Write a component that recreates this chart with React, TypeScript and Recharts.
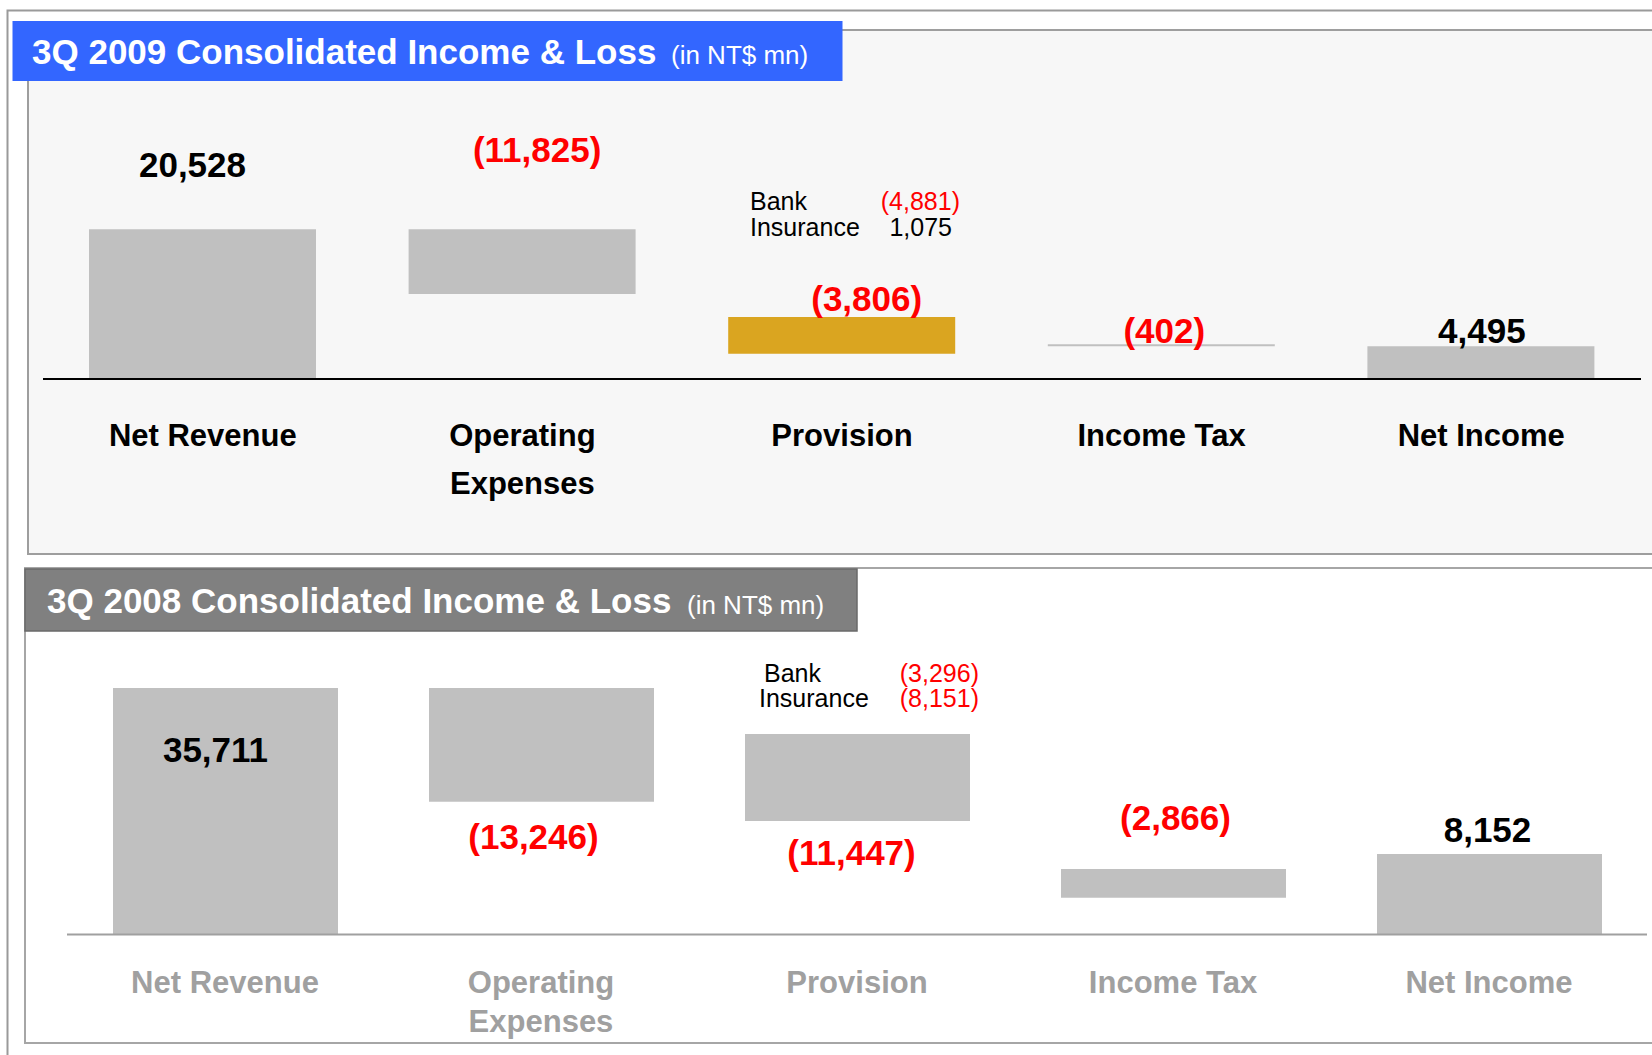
import React from "react";
import { BarChart, Bar, XAxis, YAxis, Cell, LabelList } from "recharts";

const FONT = '"Liberation Sans", Arial, Helvetica, sans-serif';

// categories and tick labels
const categories = ["Net Revenue", "Operating Expenses", "Provision", "Income Tax", "Net Income"];
const tickLines = [["Net Revenue"], ["Operating", "Expenses"], ["Provision"], ["Income Tax"], ["Net Income"]];

// 3Q 2009 (NT$ mn)
const values2009 = [20528, -11825, -3806, -402, 4495];
const barLow2009 = [0, 11630, 3460, 4475, 0];
const barHigh2009 = [20528, 20528, 8485, 4750, 4495];

// 3Q 2008 (NT$ mn)
const values2008 = [35711, -13246, -11447, -2866, 8152];
const barLow2008 = [0, 19240, 16450, 5330, 0];
const barHigh2008 = [35711, 35711, 29050, 9490, 11660];

// provision breakdown
const breakdownNames = ["Bank", "Insurance"];
const breakdown2009 = [-4881, 1075];
const breakdown2008 = [-3296, -8151];

const fills2009 = ["#c0c0c0", "#c0c0c0", "#daa520", "#c0c0c0", "#c0c0c0"];
const fills2008 = ["#c0c0c0", "#c0c0c0", "#c0c0c0", "#c0c0c0", "#c0c0c0"];

// label placement relative to bar edge
const labelPos2009 = [
  { edge: "top", dx: -10, dy: -52 },
  { edge: "top", dx: 15, dy: -67 },
  { edge: "top", dx: 25, dy: -6 },
  { edge: "top", dx: 3, dy: -1 },
  { edge: "top", dx: 1, dy: -3 },
];
const labelPos2008 = [
  { edge: "top", dx: -10, dy: 74 },
  { edge: "bottom", dx: -8, dy: 47 },
  { edge: "bottom", dx: -6, dy: 44 },
  { edge: "top", dx: 2, dy: -39 },
  { edge: "top", dx: -2, dy: -12 },
];

const fmt = (v: number) =>
  v < 0 ? `(${Math.abs(v).toLocaleString("en-US")})` : v.toLocaleString("en-US");

const rows2009 = categories.map((name, i) => ({ name, range: [barLow2009[i], barHigh2009[i]] }));
const rows2008 = categories.map((name, i) => ({ name, range: [barLow2008[i], barHigh2008[i]] }));

function makeValueLabel(values: number[], positions: { edge: string; dx: number; dy: number }[]) {
  return function ValueLabel(props: any) {
    const vb = props.viewBox || {};
    const x = props.x ?? vb.x;
    const y = props.y ?? vb.y;
    const w = props.width ?? vb.width;
    const h = props.height ?? vb.height;
    const i = categories.indexOf(props.value);
    if (i < 0) return null;
    const top = Math.min(y, y + h);
    const bottom = Math.max(y, y + h);
    const p = positions[i];
    const ty = (p.edge === "top" ? top : bottom) + p.dy;
    const v = values[i];
    return (
      <text
        x={x + w / 2 + p.dx}
        y={ty}
        textAnchor="middle"
        fontFamily={FONT}
        fontWeight="bold"
        fontSize={35}
        fill={v < 0 ? "#ff0000" : "#000000"}
      >
        {fmt(v)}
      </text>
    );
  };
}

function CategoryTick(props: any) {
  const { x, y, payload, color, firstDy, gap } = props;
  const i = categories.indexOf(payload.value);
  const lines = i >= 0 ? tickLines[i] : [payload.value];
  return (
    <g>
      {lines.map((t: string, k: number) => (
        <text
          key={k}
          x={x}
          y={y + firstDy + k * gap}
          textAnchor="middle"
          fontFamily={FONT}
          fontWeight="bold"
          fontSize={31}
          fill={color}
        >
          {t}
        </text>
      ))}
    </g>
  );
}

function Breakdown({ x, y, valueX, values }: { x: number[]; y: number[]; valueX: number[]; values: number[] }) {
  return (
    <g fontFamily={FONT} fontSize={25}>
      {breakdownNames.map((n, i) => (
        <g key={n}>
          <text x={x[i]} y={y[i]} fill="#000">{n}</text>
          <text x={valueX[i] - (values[i] < 0 ? 0 : 8)} y={y[i]} textAnchor="end" fill={values[i] < 0 ? "#ff0000" : "#000"}>
            {fmt(values[i])}
          </text>
        </g>
      ))}
    </g>
  );
}

export default function App() {
  return (
    <div style={{ position: "absolute", left: 0, top: 0, width: 1652, height: 1055, background: "#fff", overflow: "hidden" }}>
      <svg width={1652} height={1055} style={{ position: "absolute", left: 0, top: 0 }}>
        <path d="M7.5 1055 V10.5 H1652" stroke="#9a9a9a" strokeWidth={2} fill="none" />

        {/* 2009 panel */}
        <rect x={28} y={30} width={1650} height={524} fill="#f7f7f7" stroke="#9e9e9e" strokeWidth={2} />
        <rect x={12.5} y={21} width={830} height={60} fill="#3366ff" />
        <text x={32} y={64} fontFamily={FONT} fontWeight="bold" fontSize={35} fill="#fff">
          3Q 2009 Consolidated Income &amp; Loss
        </text>
        <text x={671} y={64} fontFamily={FONT} fontSize={26} fill="#fff">
          (in NT$ mn)
        </text>
        <Breakdown x={[750, 750]} y={[210, 236]} valueX={[960, 960]} values={breakdown2009} />

        {/* 2008 panel */}
        <rect x={25} y={568} width={1650} height={475} fill="#ffffff" stroke="#a6a6a6" strokeWidth={2} />
        <rect x={25} y={569} width={832} height={62} fill="#808080" stroke="#6a6a6a" strokeWidth={1.5} />
        <text x={47} y={613} fontFamily={FONT} fontWeight="bold" fontSize={35} fill="#fff">
          3Q 2008 Consolidated Income &amp; Loss
        </text>
        <text x={687} y={614} fontFamily={FONT} fontSize={26} fill="#fff">
          (in NT$ mn)
        </text>
        <Breakdown x={[764, 759]} y={[682, 707]} valueX={[979, 979]} values={breakdown2008} />
      </svg>

      <div style={{ position: "absolute", left: 0, top: 0 }}>
        <BarChart width={1652} height={560} data={rows2009} margin={{ top: 87, right: 11, bottom: 41, left: 43 }}>
          <XAxis
            dataKey="name"
            interval={0}
            tickLine={false}
            tickSize={0}
            tickMargin={0}
            height={140}
            axisLine={{ stroke: "#000", strokeWidth: 2 }}
            tick={(p: any) => <CategoryTick {...p} color="#000" firstDy={67} gap={48} />}
          />
          <YAxis hide domain={[0, 40000]} allowDataOverflow />
          <Bar dataKey="range" barSize={227} isAnimationActive={false}>
            {rows2009.map((r, i) => (
              <Cell key={r.name} fill={fills2009[i]} />
            ))}
            <LabelList dataKey="name" content={makeValueLabel(values2009, labelPos2009)} />
          </Bar>
        </BarChart>
      </div>

      <div style={{ position: "absolute", left: 0, top: 560 }}>
        <BarChart width={1652} height={495} data={rows2008} margin={{ top: 98.5, right: 5, bottom: 10.5, left: 67 }}>
          <XAxis
            dataKey="name"
            interval={0}
            tickLine={false}
            tickSize={0}
            tickMargin={0}
            height={110}
            axisLine={{ stroke: "#a0a0a0", strokeWidth: 2 }}
            tick={(p: any) => <CategoryTick {...p} color="#a0a0a0" firstDy={58} gap={39} />}
          />
          <YAxis hide domain={[0, 40000]} allowDataOverflow />
          <Bar dataKey="range" barSize={225} isAnimationActive={false}>
            {rows2008.map((r, i) => (
              <Cell key={r.name} fill={fills2008[i]} />
            ))}
            <LabelList dataKey="name" content={makeValueLabel(values2008, labelPos2008)} />
          </Bar>
        </BarChart>
      </div>
    </div>
  );
}
